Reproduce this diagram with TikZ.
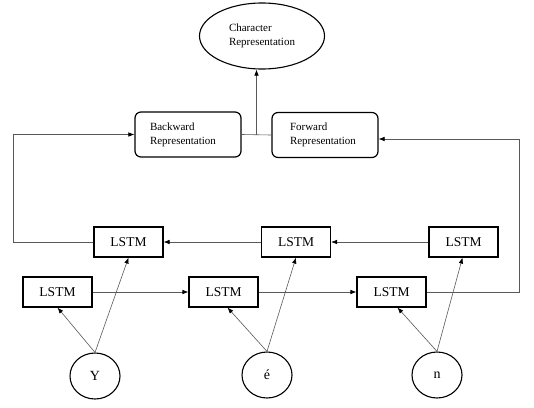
\documentclass[tikz,border=0pt]{standalone}
\usepackage{fontspec}
\setmainfont{Liberation Serif}
\usetikzlibrary{arrows.meta,shapes.geometric,calc}
\begin{document}
\begin{tikzpicture}[x=1pt,y=-1pt,
  lstm/.style={draw=black,line width=1.1pt,minimum width=69pt,minimum height=30pt,inner sep=0pt,font=\fontsize{13.5}{15}\selectfont},
  repbox/.style={draw=black,line width=1.2pt,rounded corners=6pt,minimum height=45pt,align=left,font=\fontsize{11}{14}\selectfont},
  charnode/.style={draw=black,line width=1.1pt,ellipse,minimum width=50pt,minimum height=46pt,inner sep=0pt,font=\fontsize{14}{16}\selectfont},
  conn/.style={draw=black!65,line width=0.6pt},
  arr/.style={conn,-{Latex[length=6pt,width=4.5pt,color=black]}}
]
\useasboundingbox (0,0) rectangle (534,407);
% output
\node[draw=black,line width=1.1pt,ellipse,minimum width=125pt,minimum height=66pt,align=left,font=\fontsize{11}{14}\selectfont] (char) at (262,36) {Character\\Representation};
% representations
\node[repbox,text width=76pt,inner xsep=15pt] (bw) at (188,134.5) {Backward\\Representation};
\node[repbox,text width=70pt,inner xsep=18pt] (fw) at (325,135) {Forward\\Representation};
% top LSTM row (backward)
\node[lstm] (tl1) at (128.5,242) {LSTM};
\node[lstm] (tl2) at (296,242) {LSTM};
\node[lstm] (tl3) at (463.5,242) {LSTM};
% bottom LSTM row (forward)
\node[lstm] (bl1) at (57.5,292) {LSTM};
\node[lstm] (bl2) at (223.5,292) {LSTM};
\node[lstm] (bl3) at (391.5,292) {LSTM};
% characters
\node[charnode] (c1) at (95,376) {Y};
\node[charnode] (c2) at (267,375) {é};
\node[charnode] (c3) at (437,375) {n};
% helper coordinates
\coordinate (lx) at (13,0);
\coordinate (rx) at (519,0);
\coordinate (mid) at (256.5,135);
% connectors
\draw[conn] (bw.east) -- (fw.west);
\draw[arr] (mid |- bw.east) -- (mid |- char.south);
\draw[arr] (tl3.west) -- (tl2.east);
\draw[arr] (tl2.west) -- (tl1.east);
\draw[arr] (tl1.west) -- (tl1.west -| lx) |- (bw.west);
\draw[arr] (bl1.east) -- (bl2.west);
\draw[arr] (bl2.east) -- (bl3.west);
\draw[arr] (bl3.east) -- (bl3.east -| rx) |- ($(fw.east)+(0,4)$);
\draw[arr] (c1.north) -- (bl1.south);
\draw[arr] (c1.north) -- (tl1.south);
\draw[arr] (c2.north) -- ($(bl2.south)+(4,0)$);
\draw[arr] (c2.north) -- (tl2.south);
\draw[arr] (c3.north) -- ($(bl3.south)+(6,0)$);
\draw[arr] (c3.north) -- ($(tl3.south)+(-1,0)$);
\end{tikzpicture}
\end{document}
